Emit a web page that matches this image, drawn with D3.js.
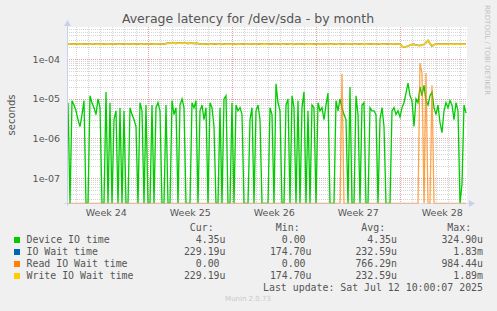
<!DOCTYPE html>
<html><head><meta charset="utf-8">
<script src="https://cdn.jsdelivr.net/npm/d3@7"></script>
<style>body{margin:0;background:#f0f0f0;} svg{display:block}</style>
</head><body>
<svg id="c" width="497" height="311"></svg>
<script>
// ---- data (values in microseconds, one point per 4 hours) ----
const weekLabels = ["Week 24","Week 25","Week 26","Week 27","Week 28"];
const yTickValues = [1e-7, 1e-6, 1e-5, 1e-4];
const yTickLabels = ["1e-07","1e-06","1e-05","1e-04"];
const seriesNames = ["Device IO time","IO Wait time","Read IO Wait time","Write IO Wait time"];
const seriesColors = ["#00cc00","#0066b3","#ff8000","#ffcc00"];
const curVals = ["4.35u","229.19u","0.00","229.19u"];
const minVals = ["0.00","174.70u","0.00","174.70u"];
const avgVals = ["4.35u","232.59u","766.29n","232.59u"];
const maxVals = ["324.90u","1.83m","984.44u","1.89m"];

const deviceIO = [
 8,0,9,7,5,3,2,4,9,0, 0,12,8,6,4,10,6,0,0,15, 0,8,0,3,5,0,6,0,5,0, 0,6,4,3,2,0,8,5,0,7,
 0,0,7,0,6,8,5,0,0,7, 0,0,9,4,6,0,7,10,6,0, 0,0,8,6,9,0,5,7,3,6, 0,8,6,2,0,0,6,0,10,12,
 0,0,8,0,7,5,6,4,0,0, 0,3,6,0,5,7,3,0,0,0, 0,6,4,0,24,8,5,0,0,7, 10,0,12,6,0,9,0,6,15,0,
 5,0,7,6,0,8,5,6,3,7, 14,0,0,0,9,5,10,6,4,3, 0,20,0,0,12,4,0,7,8,0, 0,6,5,5,4,0,3,6,2,0,
 0,0,5,6,4,5,3.5,6,8,14, 25,12,9,2,10,8,20,12,22,9, 7,12,15,6,4,7,2.5,1.4,5,8, 6,9,7,3,8,5,0,0.07,7,4.35
];
const readWait = [
 0,0,0,0,0,0,0,0,0,0, 0,0,0,0,0,0,0,0,0,0, 0,0,0,0,0,0,0,0,0,0, 0,0,0,0,0,0,0,0,0,0,
 0,0,0,0,0,0,0,0,0,0, 0,0,0,0,0,0,0,0,0,0, 0,0,0,0,0,0,0,0,0,0, 0,0,0,0,0,0,0,0,0,0,
 0,0,0,0,0,0,0,0,0,0, 0,0,0,0,0,0,0,0,0,0, 0,0,0,0,0,0,0,0,0,0, 0,0,0,0,0,0,0,0,0,0,
 0,0,0,0,0,0,0,0,0,0, 0,0,0,0,0,0,0,43,0,0, 0,0,0,0,0,0,0,0,0,0, 0,0,0,0,0,0,0,0,0,0,
 0,0,0,0,0,0,0,0,0,0, 0,0,0,0,0,0,80,45,0,45, 0,0,22,0,0,0,0,0,0,0, 0,0,0,0,0,0,0,0,0,0
];
const writeWait = [
 242,245,244,240,243,246,242,241,244,243, 240,242,245,243,241,244,242,240,243,245, 242,241,244,246,243,240,242,244,243,241, 245,243,242,240,244,243,241,242,245,243,
 242,244,243,240,242,245,243,241,244,252, 255,253,256,254,252,257,255,253,256,254, 252,255,253,251,254,252,244,242,241,243, 245,242,240,243,244,241,242,245,243,240,
 242,244,241,243,245,242,240,243,244,241, 242,245,243,240,242,244,243,241,245,242, 240,243,244,242,241,243,245,242,240,243, 244,241,242,245,243,240,242,244,243,241,
 245,242,240,243,244,241,242,245,243,240, 242,244,241,243,245,242,240,243,244,241, 242,245,243,240,242,244,243,241,245,242, 240,243,244,242,241,243,245,242,240,243,
 244,241,242,245,243,240,242,212,208,210, 215,228,238,240,230,225,222,232,238,262, 300,250,215,235,242,240,243,241,244,242, 240,243,242,244,241,243,242,240,243,242
];
const ioWait = writeWait.slice();

// ---- layout ----
const L = 67, R = 467, T = 27, B = 203;
const svg = d3.select("#c");
const start = Date.UTC(2025,5,9,5,24);
const end = Date.UTC(2025,6,12,13,24);
const step = 4*3600*1000;
const x = d3.scaleUtc().domain([start, end]).range([L, R]);
const y = d3.scaleLog().domain([2.335e-8, 6.55e-4]).range([B, T]);
const yv = v => v <= 2.335e-8 ? B + 0.5 : y(v);
const tOf = i => start + (i + 0.5) * step;

svg.append("rect").attr("width",497).attr("height",311).attr("fill","#f0f0f0");
svg.append("rect").attr("x",L).attr("y",T).attr("width",R-L).attr("height",B-T).attr("fill","#ffffff");

// grid: minor horizontal
const g = svg.append("g");
const minor = [];
for (let e = -8; e <= -4; e++) for (let k = 2; k <= 9; k++) { const v = k*Math.pow(10,e); if (v > 2.335e-8 && v < 6.55e-4) minor.push(v); }
g.selectAll(".hm").data(minor).enter().append("line")
 .attr("x1",L).attr("x2",R).attr("y1",d=>Math.round(y(d))+0.5).attr("y2",d=>Math.round(y(d))+0.5)
 .attr("stroke","#d4d4d4").attr("stroke-dasharray","1,1");
// minor vertical (daily)
const days = d3.utcDay.range(new Date(start), new Date(end));
g.selectAll(".vm").data(days).enter().append("line")
 .attr("y1",T).attr("y2",B).attr("x1",d=>Math.round(x(d))+0.5).attr("x2",d=>Math.round(x(d))+0.5)
 .attr("stroke","#d4d4d4").attr("stroke-dasharray","1,1");
// major
g.selectAll(".hM").data(yTickValues).enter().append("line")
 .attr("x1",L).attr("x2",R).attr("y1",d=>Math.round(y(d))+0.5).attr("y2",d=>Math.round(y(d))+0.5)
 .attr("stroke","#e8a0a0").attr("stroke-dasharray","1,1");
const weeks = d3.utcMonday.range(new Date(start), new Date(end));
g.selectAll(".vM").data(weeks).enter().append("line")
 .attr("y1",T).attr("y2",B+2).attr("x1",d=>Math.round(x(d))+0.5).attr("x2",d=>Math.round(x(d))+0.5)
 .attr("stroke","#e8a0a0").attr("stroke-dasharray","1,1");

// clip
svg.append("clipPath").attr("id","pc").append("rect").attr("x",L).attr("y",T-2).attr("width",R-L).attr("height",B-T+3);
const plot = svg.append("g").attr("clip-path","url(#pc)");
const line = d3.line().x((d,i)=>x(tOf(i))).y(d=>yv(d*1e-6));
plot.append("path").datum(deviceIO).attr("d",line).attr("fill","none").attr("stroke",seriesColors[0]).attr("stroke-width",1.3);
plot.append("path").datum(ioWait).attr("d",line).attr("fill","none").attr("stroke",seriesColors[1]).attr("stroke-width",1.5);
plot.append("path").datum(readWait).attr("d",line).attr("fill","none").attr("stroke",seriesColors[2]).attr("stroke-width",1.3).attr("stroke-opacity",0.7);
plot.append("path").datum(writeWait).attr("d",line).attr("fill","none").attr("stroke",seriesColors[3]).attr("stroke-width",1.6);

// axes lines + arrows
svg.append("line").attr("x1",L+0.5).attr("x2",L+0.5).attr("y1",T-4).attr("y2",B+3).attr("stroke","#c8cff0");
svg.append("line").attr("x1",L-3).attr("x2",R+3).attr("y1",B+0.5).attr("y2",B+0.5).attr("stroke","#c8cff0").attr("stroke-opacity",0.6);
svg.append("path").attr("d",`M${L-3},${T-1} L${L+0.5},${T-7} L${L+4},${T-1} Z`).attr("fill","#c8cff0");
svg.append("path").attr("d",`M${R+2},${B-3} L${R+8},${B+0.5} L${R+2},${B+4} Z`).attr("fill","#c8cff0");

// tick labels
const tf = "DejaVu Sans, sans-serif";
svg.selectAll(".yl").data(yTickValues).enter().append("text")
 .attr("x",60).attr("y",d=>y(d)+3.5).attr("text-anchor","end")
 .attr("font-family",tf).attr("font-size",9.5).attr("fill","#555").text((d,i)=>yTickLabels[i]);
const weekStarts = d3.utcMonday.range(d3.utcMonday.floor(new Date(start)), new Date(end));
svg.selectAll(".xl").data(weekStarts).enter().append("text")
 .attr("x",d=>x(new Date(+d + 3.5*86400000))).attr("y",216).attr("text-anchor","middle")
 .attr("font-family",tf).attr("font-size",9.5).attr("fill","#555").text((d,i)=>weekLabels[i]);

// title, axis label, side text
svg.append("text").attr("x",248).attr("y",23).attr("text-anchor","middle").attr("font-family",tf)
 .attr("font-size",12.5).attr("fill","#555").text("Average latency for /dev/sda - by month");
svg.append("text").attr("transform","translate(15,115) rotate(-90)").attr("text-anchor","middle")
 .attr("font-family",tf).attr("font-size",10).attr("fill","#555").text("seconds");
svg.append("text").attr("transform","translate(485,5) rotate(90)").attr("text-anchor","start")
 .attr("font-family",tf).attr("font-size",7).attr("fill","#c0c0c0").text("RRDTOOL / TOBI OETIKER");

// legend
const mf = "DejaVu Sans Mono, monospace";
const fs = 9.9, cw = 5.96;
const cols = [225.5, 311.5, 397, 483];
const heads = ["Cur:","Min:","Avg:","Max:"];
heads.forEach((h,j)=>svg.append("text").attr("x",cols[j]-2*cw).attr("y",231).attr("text-anchor","end")
 .attr("font-family",mf).attr("font-size",fs).attr("fill","#555").text(h));
const colsData = [curVals, minVals, avgVals, maxVals];
seriesNames.forEach((n,i)=>{
  const by = 243 + i*12;
  svg.append("rect").attr("x",14).attr("y",by-6).attr("width",6).attr("height",6).attr("fill",seriesColors[i]);
  svg.append("text").attr("x",26.5).attr("y",by).attr("font-family",mf).attr("font-size",fs).attr("fill","#555").text(n);
  colsData.forEach((arr,j)=>{
    const s = arr[i];
    const hasUnit = /[a-zA-Z]$/.test(s);
    svg.append("text").attr("x",hasUnit?cols[j]:cols[j]-cw).attr("y",by).attr("text-anchor","end")
     .attr("font-family",mf).attr("font-size",fs).attr("fill","#555").text(s);
  });
});
svg.append("text").attr("x",483).attr("y",291).attr("text-anchor","end").attr("font-family",mf)
 .attr("font-size",fs).attr("fill","#555").text("Last update: Sat Jul 12 10:00:07 2025");
svg.append("text").attr("x",248).attr("y",301).attr("text-anchor","middle").attr("font-family",tf)
 .attr("font-size",7).attr("fill","#c8c8c8").text("Munin 2.0.73");
</script>
</body></html>
